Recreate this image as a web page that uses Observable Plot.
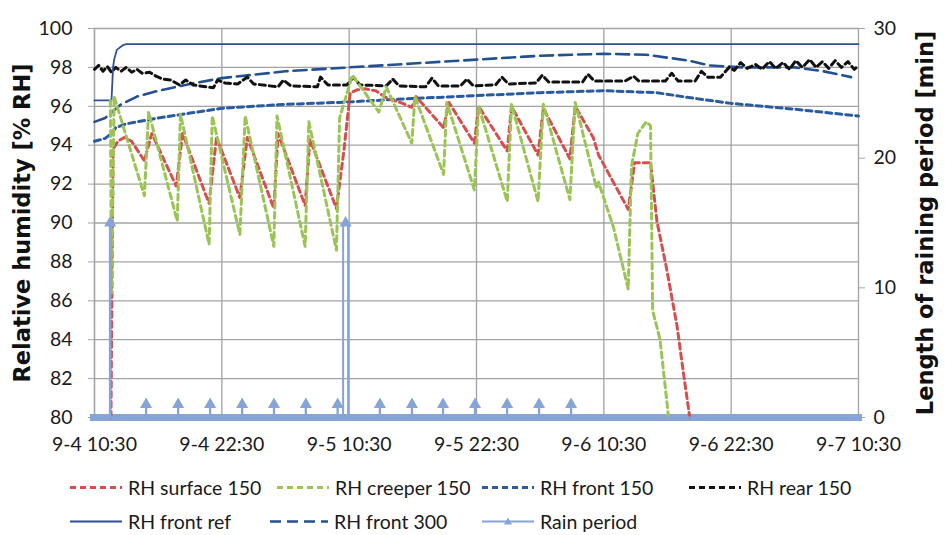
<!DOCTYPE html>
<html><head><meta charset="utf-8">
<script src="https://cdn.jsdelivr.net/npm/d3@7"></script>
<script src="https://cdn.jsdelivr.net/npm/@observablehq/plot@0.6"></script>
<style>
body{margin:0;background:#fff;}
#wrap{position:relative;width:945px;height:535px;font-family:Lato,"Open Sans",sans-serif;color:#1a1a1a;}
#legend{position:absolute;left:0;top:0;width:945px;height:535px;}
.li{position:absolute;display:flex;align-items:center;font-size:19.5px;white-space:nowrap;transform:translateY(-50%);}
.li svg{margin-right:6px;}
</style></head><body>
<div id="wrap"><div id="chart"></div><div id="legend"></div></div>
<script>
// ---------- data (hours since 9-4 10:30, RH %) ----------
const xTicks = [0, 12, 24, 36, 48, 60, 72];
const xTickLabels = ["9-4 10:30","9-4 22:30","9-5 10:30","9-5 22:30","9-6 10:30","9-6 22:30","9-7 10:30"];
const rhTicks = [80,82,84,86,88,90,92,94,96,98,100];
const rainTicks = [0,10,20,30];

const surface150 = [[1.55,80],[1.75,93.8],[2.2,94.2],[2.8,94.4],[3.5,94.2],[4.7,93.2],[5.4,94.6],[7.7,91.9],[8.3,94.6],[10.8,91.0],[11.5,94.4],[13.7,91.3],[14.4,94.4],[16.9,90.75],[17.3,94.6],[19.85,90.9],[20.3,94.3],[22.8,90.75],[23.5,93.7],[24.1,96.7],[24.8,96.85],[25.5,96.9],[26.5,96.8],[27.6,96.4],[28.8,96.2],[29.9,95.95],[30.3,96.5],[32.9,94.9],[33.4,96.2],[35.8,94.1],[36.2,96.0],[38.9,93.7],[39.3,96.0],[41.8,93.5],[42.3,95.9],[44.8,93.3],[45.3,96.0],[47.0,94.4],[47.5,93.5],[50.3,90.7],[50.9,93.1],[52.4,93.1],[53.0,90.1],[53.9,87.7],[54.9,84.7],[55.5,82.3],[56.1,80.0]];
const creeper150 = [[1.5,96.3],[1.6,86.4],[1.85,96.5],[4.7,91.4],[5.1,95.7],[7.8,90.1],[8.1,95.6],[10.8,88.9],[11.1,95.5],[13.7,89.4],[14.2,95.5],[16.9,88.8],[17.2,95.5],[19.85,88.8],[20.2,95.2],[22.8,88.6],[23.1,95.4],[24.3,97.6],[26.8,95.7],[27.5,97.0],[29.9,94.1],[30.2,96.5],[32.9,92.5],[33.2,96.2],[35.8,91.7],[36.2,96.0],[38.9,91.1],[39.3,96.1],[41.8,91.1],[42.3,96.1],[44.8,91.2],[45.3,96.2],[47.3,91.8],[47.5,92.1],[48.9,89.8],[50.3,86.6],[50.6,92.9],[51.2,94.6],[52.0,95.2],[52.4,95.0],[52.6,85.5],[53.3,84.0],[54.1,80.0]];
const front150 = [[0,94.2],[1,94.35],[1.6,94.6],[2.0,94.9],[3,95.1],[6,95.4],[9,95.65],[12,95.9],[18,96.1],[23,96.2],[30,96.4],[36,96.55],[42,96.7],[48,96.8],[53,96.7],[56,96.45],[60,96.15],[66,95.85],[72,95.5]];
const rear150 = [[0,97.9],[0.4,98.1],[0.8,97.8],[1.2,98.05],[1.6,97.75],[2.0,98.0],[2.5,97.8],[3.0,98.0],[3.5,97.75],[4.0,97.9],[4.5,97.7],[5.2,97.75],[5.8,97.55],[6.4,97.4],[7.2,97.35],[8.0,97.1],[8.6,97.35],[9.3,97.1],[10.5,97.0],[11.2,96.95],[11.6,97.35],[12.3,97.2],[13.5,97.15],[14.4,97.5],[15.0,97.15],[16.5,97.05],[17.3,97.0],[17.8,97.35],[18.5,97.05],[21.0,97.0],[21.3,97.5],[22.0,97.1],[23.8,97.1],[24.4,97.5],[25.0,97.1],[27.5,97.05],[28.1,97.4],[28.7,97.05],[31.2,97.0],[31.8,97.45],[32.4,97.05],[34.5,97.05],[35.1,97.4],[35.7,97.05],[37.8,97.1],[38.4,97.5],[39.0,97.15],[41.6,97.2],[42.2,97.6],[42.8,97.25],[46.0,97.25],[46.5,97.65],[47.1,97.3],[50.0,97.3],[50.8,97.55],[51.3,97.3],[53.8,97.3],[54.4,97.7],[55.0,97.3],[56.6,97.3],[57.2,97.8],[57.8,97.5],[59.0,97.5],[59.8,98.0],[60.3,97.85],[60.9,98.25],[61.5,97.95],[62.3,98.15],[62.9,97.9],[63.6,98.3],[64.2,97.95],[64.9,98.25],[65.5,97.9],[66.1,98.35],[66.7,98.0],[67.4,98.4],[68.0,98.0],[68.6,98.3],[69.2,97.95],[69.8,98.35],[70.4,98.0],[71.0,98.3],[71.6,97.9],[72,98.1]];
const frontRef = [[0,96.3],[1.6,96.3],[1.75,98.0],[1.85,98.4],[2.1,98.9],[2.7,99.15],[3.0,99.2],[72,99.2]];
const front300 = [[0,95.2],[1,95.4],[2.5,96.1],[4,96.5],[6,96.8],[9,97.15],[12,97.45],[18,97.8],[24,98.0],[30,98.2],[36,98.4],[42,98.6],[48,98.7],[52,98.65],[54,98.5],[56,98.35],[58,98.1],[61,98.0],[66,98.0],[68.7,97.8],[71.3,97.5]];
// rain events: start hour, end hour, minutes of rain
const rainStart   = [1.45, 4.85, 7.87, 10.88, 13.9, 16.9, 19.9, 22.9, 23.43, 26.88, 29.9, 32.83, 35.85, 38.87, 41.88, 44.9];
const rainEnd     = [1.5, 4.88, 7.9, 10.91, 13.93, 16.93, 19.93, 22.93, 23.9, 26.91, 29.93, 32.86, 35.88, 38.9, 41.91, 44.93];
const rainMinutes = [15, 1, 1, 1, 1, 1, 1, 1, 15, 1, 1, 1, 1, 1, 1, 1];
const seriesNames = ["RH surface 150","RH creeper 150","RH front 150","RH rear 150","RH front ref","RH front 300","Rain period"];

// ---------- styles ----------
const C = {surface:"#D4504E", creeper:"#9BC455", front150:"#2A5B9F", rear:"#111111", ref:"#2F4F97", f300:"#23508F", rain:"#86A4D6", grid:"#a3a3a3"};
const DASH = "6,4", LDASH = "13,6";
const toRH = m => 80 + m * 20 / 30;

const rainEvents = rainStart.map((s, i) => ({s, e: rainEnd[i], m: rainMinutes[i]}));
const rainPath = [[0, 0], ...rainEvents.flatMap(ev => [[ev.s, 0], [ev.s, ev.m], [ev.e, ev.m], [ev.e, 0]]), [72, 0]];

const X = d => d[0], Y = d => d[1];
const font = "Lato, 'Open Sans', sans-serif";
const titleFont = "'DejaVu Sans', sans-serif";

const chart = Plot.plot({
  width: 945, height: 460,
  marginLeft: 94, marginRight: 87, marginTop: 28, marginBottom: 43,
  style: {fontFamily: font, fontSize: "19.5px", color: "#1a1a1a", background: "#fff", overflow: "visible"},
  x: {domain: [0, 72]},
  y: {domain: [80, 100]},
  marks: [
    Plot.gridY(rhTicks, {stroke: C.grid, strokeOpacity: 1, strokeWidth: 1.3}),
    Plot.gridX(xTicks, {stroke: C.grid, strokeOpacity: 1, strokeWidth: 1.3}),
    Plot.ruleX([0], {stroke: C.grid, strokeWidth: 1.3}),
    Plot.axisY(rhTicks, {anchor: "left", tickSize: 6, tickPadding: 16, stroke: C.grid, label: null}),
    Plot.axisY(rainTicks.map(toRH), {anchor: "right", tickSize: 6, tickPadding: 9, stroke: C.grid, label: null,
      tickFormat: d => Math.round((d - 80) * 1.5)}),
    Plot.axisX(xTicks, {anchor: "bottom", tickSize: 0, tickPadding: 20, label: null,
      tickFormat: d => xTickLabels[xTicks.indexOf(d)]}),
    Plot.text(["Relative humidity [% RH]"], {frameAnchor: "left", textAnchor: "middle", rotate: -90, dx: -72, fontSize: 22.5, fontWeight: "bold", fontFamily: titleFont, fill: "#111"}),
    Plot.text(["Length of raining period [min]"], {frameAnchor: "right", textAnchor: "middle", rotate: -90, dx: 67, fontSize: 22.5, fontWeight: "bold", fontFamily: titleFont, fill: "#111"}),
    Plot.ruleY([toRH(0)], {stroke: C.rain, strokeWidth: 7, insetLeft: -4, insetRight: -4}),
    Plot.line(front300, {x: X, y: Y, stroke: C.f300, strokeWidth: 2.6, strokeDasharray: LDASH}),
    Plot.line(front150, {x: X, y: Y, stroke: C.front150, strokeWidth: 3, strokeDasharray: DASH}),
    Plot.line(rear150, {x: X, y: Y, stroke: C.rear, strokeWidth: 3, strokeDasharray: DASH}),
    Plot.line(frontRef, {x: X, y: Y, stroke: C.ref, strokeWidth: 1.8}),
    Plot.line(surface150, {x: X, y: Y, stroke: C.surface, strokeWidth: 3, strokeDasharray: DASH}),
    Plot.line(creeper150, {x: X, y: Y, stroke: C.creeper, strokeWidth: 3, strokeDasharray: DASH}),
    Plot.line(rainPath, {x: X, y: d => toRH(d[1]), stroke: C.rain, strokeWidth: 2}),
    Plot.dot(rainEvents, {x: d => (d.s + d.e) / 2, y: d => toRH(d.m), symbol: "triangle", r: 4.5, fill: C.rain, stroke: "none"})
  ]
});
document.getElementById("chart").appendChild(chart);

// ---------- legend ----------
const legendStyles = [
  {color: C.surface, dash: DASH, w: 3},
  {color: C.creeper, dash: DASH, w: 3},
  {color: C.front150, dash: DASH, w: 3},
  {color: C.rear, dash: DASH, w: 3},
  {color: C.ref, dash: null, w: 1.8},
  {color: C.f300, dash: "11,6", w: 2.6},
  {color: C.rain, dash: null, w: 2, marker: true}
];
const legendPos = [[70,487],[277,487],[482,487],[689,487],[70,521],[270,521],[482,521]];
const leg = document.getElementById("legend");
seriesNames.forEach((name, i) => {
  const st = legendStyles[i], [lx, ly] = legendPos[i];
  const div = document.createElement("div");
  div.className = "li";
  div.style.left = lx + "px"; div.style.top = ly + "px";
  const w = i === 5 ? 58 : 52;
  div.innerHTML = `<svg width="${w}" height="14"><line x1="0" y1="7" x2="${w}" y2="7" stroke="${st.color}" stroke-width="${st.w}" ${st.dash ? `stroke-dasharray="${st.dash}"` : ""}/>${st.marker ? `<path d="M${w/2},3 L${w/2+4},10 L${w/2-4},10 Z" fill="${st.color}"/>` : ""}</svg><span>${name}</span>`;
  leg.appendChild(div);
});
</script>
</body></html>
